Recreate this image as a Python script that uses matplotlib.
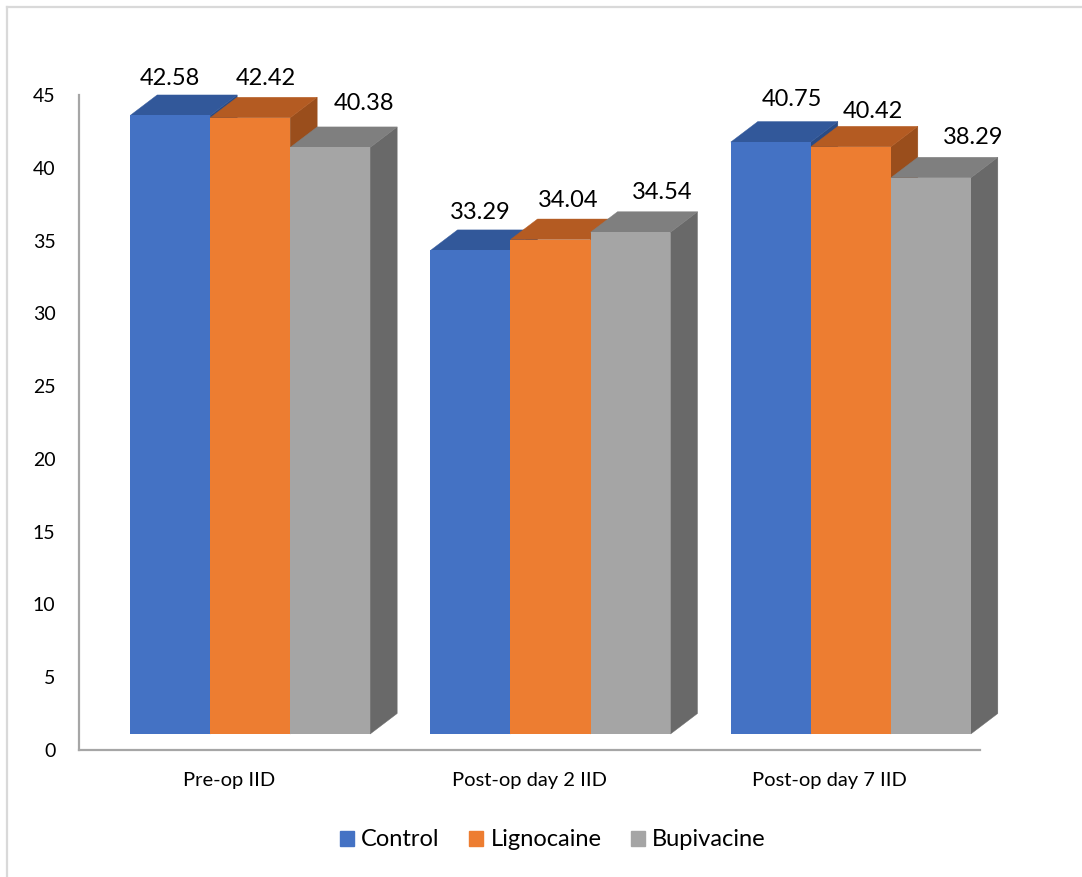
import matplotlib
matplotlib.use("Agg")
import matplotlib.pyplot as plt
from matplotlib.patches import Polygon, Patch
from matplotlib.lines import Line2D

# ---- data ----
categories = ["Pre-op IID", "Post-op day 2 IID", "Post-op day 7 IID"]
series_names = ["Control", "Lignocaine", "Bupivacine"]
control = [42.58, 33.29, 40.75]
lignocaine = [42.42, 34.04, 40.42]
bupivacine = [40.38, 34.54, 38.29]
y_ticks = [0, 5, 10, 15, 20, 25, 30, 35, 40, 45]

# ---- styles ----
front_colors = ["#4472C4", "#ED7D31", "#A5A5A5"]
top_colors = ["#32589A", "#B45B22", "#7F7F7F"]
side_colors = ["#2A4B85", "#9A4E1C", "#696969"]
# label offsets in pixels (x from front centre, y above back-top edge to text centre)
label_dx = [[0, 16, 34], [10, 18, 32], [21, 22, 42]]
label_dy = [[16.5, 18.5, 23.5], [17.5, 18.5, 19], [22, 15, 19.5]]

plt.rcParams["font.family"] = ["Lato", "DejaVu Sans"]

W, H = 1082, 877
fig = plt.figure(figsize=(W / 100, H / 100), dpi=100)
ax = fig.add_axes([79 / W, (H - 750) / H, 901 / W, 655 / H])
ax.set_xlim(0, 3)
ax.set_ylim(0, 45)

px_x = 901 / 3.0      # px per x unit
px_y = 655 / 45.0     # px per y unit
bar_w = 80 / px_x
group_shift = 21 / px_x
depth_x = 27 / px_x
depth_y = 20.5 / px_y
base = 16 / px_y

all_series = [control, lignocaine, bupivacine]
for i in range(len(categories)):
    c = i + 0.5 + group_shift
    for j, vals in enumerate(all_series):
        v = vals[i]
        x0 = c + (j - 1.5) * bar_w
        x1 = x0 + bar_w
        y0 = base
        y1 = base + v * 0.998
        front = Polygon([(x0, y0), (x1, y0), (x1, y1), (x0, y1)], closed=True,
                        facecolor=front_colors[j], edgecolor="none",
                        lw=0, clip_on=False, zorder=3)
        top = Polygon([(x0, y1), (x1, y1), (x1 + depth_x, y1 + depth_y), (x0 + depth_x, y1 + depth_y)],
                      closed=True, facecolor=top_colors[j], edgecolor=top_colors[j],
                      lw=0.3, clip_on=False, zorder=3)
        side = Polygon([(x1, y0), (x1 + depth_x, y0 + depth_y), (x1 + depth_x, y1 + depth_y), (x1, y1)],
                       closed=True, facecolor=side_colors[j], edgecolor=side_colors[j],
                       lw=0.3, clip_on=False, zorder=3)
        ax.add_patch(side)
        ax.add_patch(top)
        ax.add_patch(front)
        ax.annotate(f"{v:.2f}", xy=((x0 + x1) / 2, y1 + depth_y),
                    xytext=(label_dx[i][j] * 0.72, label_dy[i][j] * 0.72),
                    textcoords="offset points", ha="center", va="center",
                    fontsize=17, color="black", annotation_clip=False, zorder=5)

for s in ["top", "right"]:
    ax.spines[s].set_visible(False)
for s in ["left", "bottom"]:
    ax.spines[s].set_color("#A6A6A6")
    ax.spines[s].set_linewidth(1.6)

ax.set_yticks(y_ticks)
ax.set_yticklabels([str(t) for t in y_ticks])
ax.set_xticks([0.5, 1.5, 2.5])
ax.set_xticklabels(categories)
ax.tick_params(axis="y", length=0, pad=17, labelsize=14, labelcolor="black")
ax.tick_params(axis="x", length=0, pad=16, labelsize=14.5, labelcolor="black")

handles = [Patch(facecolor=front_colors[k], edgecolor=front_colors[k]) for k in range(3)]
fig.legend(handles, series_names, loc="center", bbox_to_anchor=(553 / W, 1 - 840 / H),
           ncol=3, frameon=False, fontsize=17, handlelength=0.6, handleheight=0.6,
           handletextpad=0.3, columnspacing=1.25)

# chart border (top and left visible)
fig.add_artist(Line2D([7 / W, 1.0], [1 - 7 / H, 1 - 7 / H], transform=fig.transFigure,
                      color="#D9D9D9", lw=1.6))
fig.add_artist(Line2D([7 / W, 7 / W], [0.0, 1 - 7 / H], transform=fig.transFigure,
                      color="#D9D9D9", lw=1.6))

fig.savefig("out.png", dpi=100, facecolor="white")
